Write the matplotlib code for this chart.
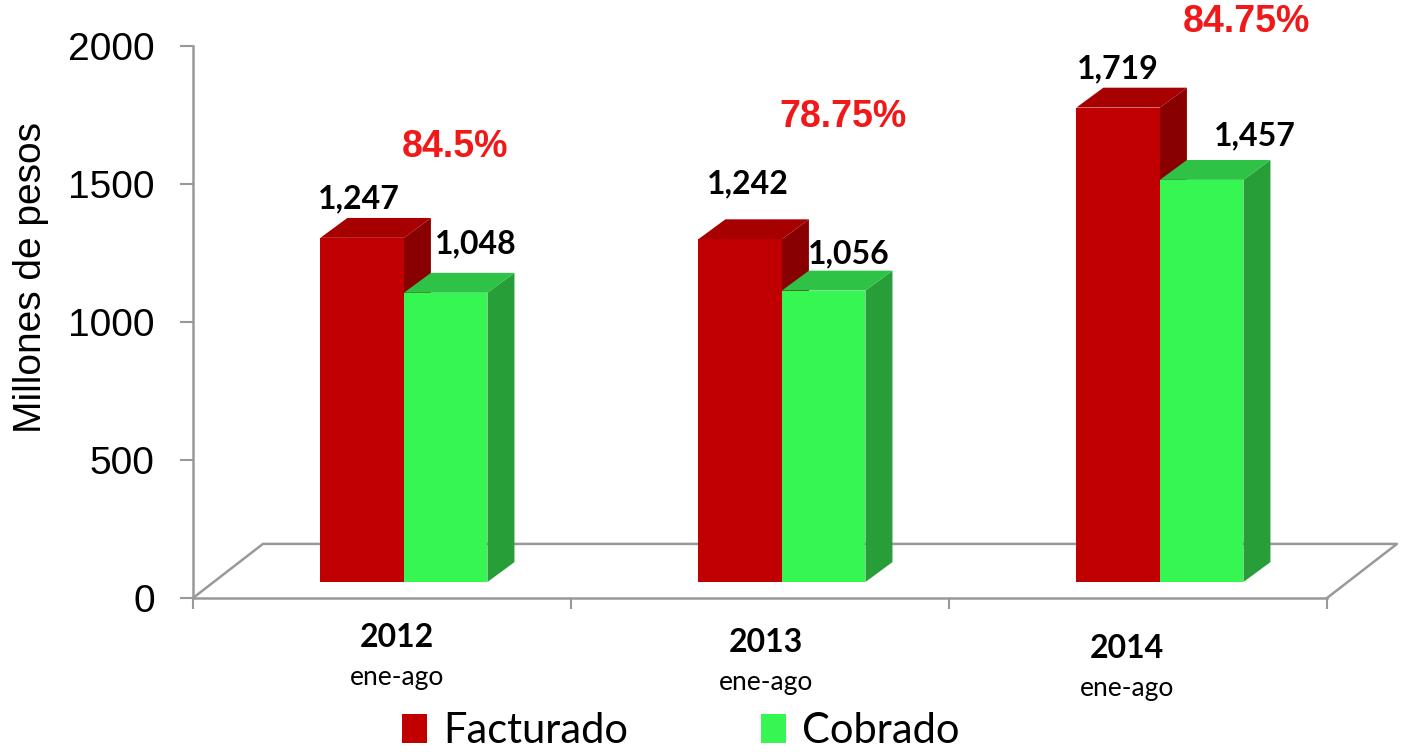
import matplotlib
matplotlib.use("Agg")
import matplotlib.pyplot as plt
from matplotlib.patches import Polygon, Patch

# data
years = ["2012", "2013", "2014"]
period = ["ene-ago", "ene-ago", "ene-ago"]
facturado = [1247, 1242, 1719]
cobrado = [1048, 1056, 1457]
facturado_labels = ["1,247", "1,242", "1,719"]
cobrado_labels = ["1,048", "1,056", "1,457"]
pct_labels = ["84.5%", "78.75%", "84.75%"]

red = ("#C00000", "#A60000", "#880000")      # front, top, side
green = ("#36F752", "#2EC246", "#289E38")

# pseudo-3D geometry (x in category units, y in data units)
floor_dx, floor_dy = 0.185, 196
bar_shift, bar_w = 0.058, 0.221
base = 58
ddx, ddy = 0.0714, 72

fig = plt.figure(figsize=(14.03, 7.52), dpi=100)
ax = fig.add_axes([193 / 1403, (752 - 598) / 752, (1327 - 193) / 1403, (598 - 46) / 752])
ax.set_xlim(0, 3)
ax.set_ylim(0, 2000)

gray = "#999999"
for s in ["top", "right"]:
    ax.spines[s].set_visible(False)
ax.spines["left"].set_color(gray)
ax.spines["left"].set_linewidth(1.8)
ax.spines["bottom"].set_color(gray)
ax.spines["bottom"].set_linewidth(1.8)

ax.set_yticks([0, 500, 1000, 1500, 2000])
ax.tick_params(axis="y", length=9.5, width=1.5, color=gray, pad=18,
               labelsize=28, labelfontfamily="Liberation Sans")
ax.set_xticks([0, 1, 2, 3])
ax.set_xticklabels([])
ax.tick_params(axis="x", length=8, width=1.5, color=gray)
ax.set_ylabel("Millones de pesos", fontsize=28, family="Liberation Sans")
ax.yaxis.set_label_coords(-0.127, 0.58)

# floor outline
ax.plot([0, floor_dx, 3 + floor_dx, 3], [0, floor_dy, floor_dy, 0],
        color=gray, lw=1.8, clip_on=False, zorder=1)


def bar3d(x0, h, cols):
    x1 = x0 + bar_w
    yt = base + h
    side = [(x1, base), (x1 + ddx, base + ddy), (x1 + ddx, yt + ddy), (x1, yt)]
    top = [(x0, yt), (x1, yt), (x1 + ddx, yt + ddy), (x0 + ddx, yt + ddy)]
    front = [(x0, base), (x1, base), (x1, yt), (x0, yt)]
    for pts, c in [(side, cols[2]), (top, cols[1]), (front, cols[0])]:
        ax.add_patch(Polygon(pts, closed=True, fc=c, ec="none", zorder=3, clip_on=False))


# label nudges (x in category units, y in data units), placed by hand in the original
red_off = [(-0.01, 141), (0.02, 202), (0.0, 141)]
green_off = [(0.08, 178), (0.065, 134), (0.14, 160)]
pct_pos = [(0.693, 1634), (1.72, 1743), (2.786, 2087)]
cat_off = [0.04, 0.015, -0.03]

for i in range(3):
    c = i + 0.5
    xr = c + bar_shift - bar_w
    xg = c + bar_shift
    bar3d(xr, facturado[i], red)
    bar3d(xg, cobrado[i], green)
    ax.text(xr + bar_w / 2 + red_off[i][0], base + facturado[i] + red_off[i][1],
            facturado_labels[i], ha="center", va="center", fontsize=23,
            fontweight="bold", family="Lato", clip_on=False, zorder=5)
    ax.text(xg + bar_w / 2 + green_off[i][0], base + cobrado[i] + green_off[i][1],
            cobrado_labels[i], ha="center", va="center", fontsize=23,
            fontweight="bold", family="Lato", clip_on=False, zorder=5)
    ax.text(pct_pos[i][0], pct_pos[i][1], pct_labels[i], ha="center", va="center",
            fontsize=27, fontweight="bold", color="#F01818",
            family="Liberation Sans", clip_on=False, zorder=5)
    ax.text(c + cat_off[i], -142 - i * 20, years[i], ha="center", va="center",
            fontsize=23, fontweight="bold", family="Lato", clip_on=False)
    ax.text(c + cat_off[i], -287 - i * 20, period[i], ha="center", va="center",
            fontsize=19, family="Lato", clip_on=False)

handles = [Patch(fc=red[0], ec="none", label="Facturado"),
           Patch(fc=green[0], ec="none", label="Cobrado")]
fig.legend(handles=handles, loc="center", bbox_to_anchor=(681 / 1403, 1 - 731 / 752),
           ncol=2, frameon=False, prop={"family": "Lato", "size": 30},
           handlelength=0.6, handleheight=0.7, handletextpad=0.38,
           columnspacing=3.2, borderpad=0.0)

fig.savefig("out.png", dpi=100)
